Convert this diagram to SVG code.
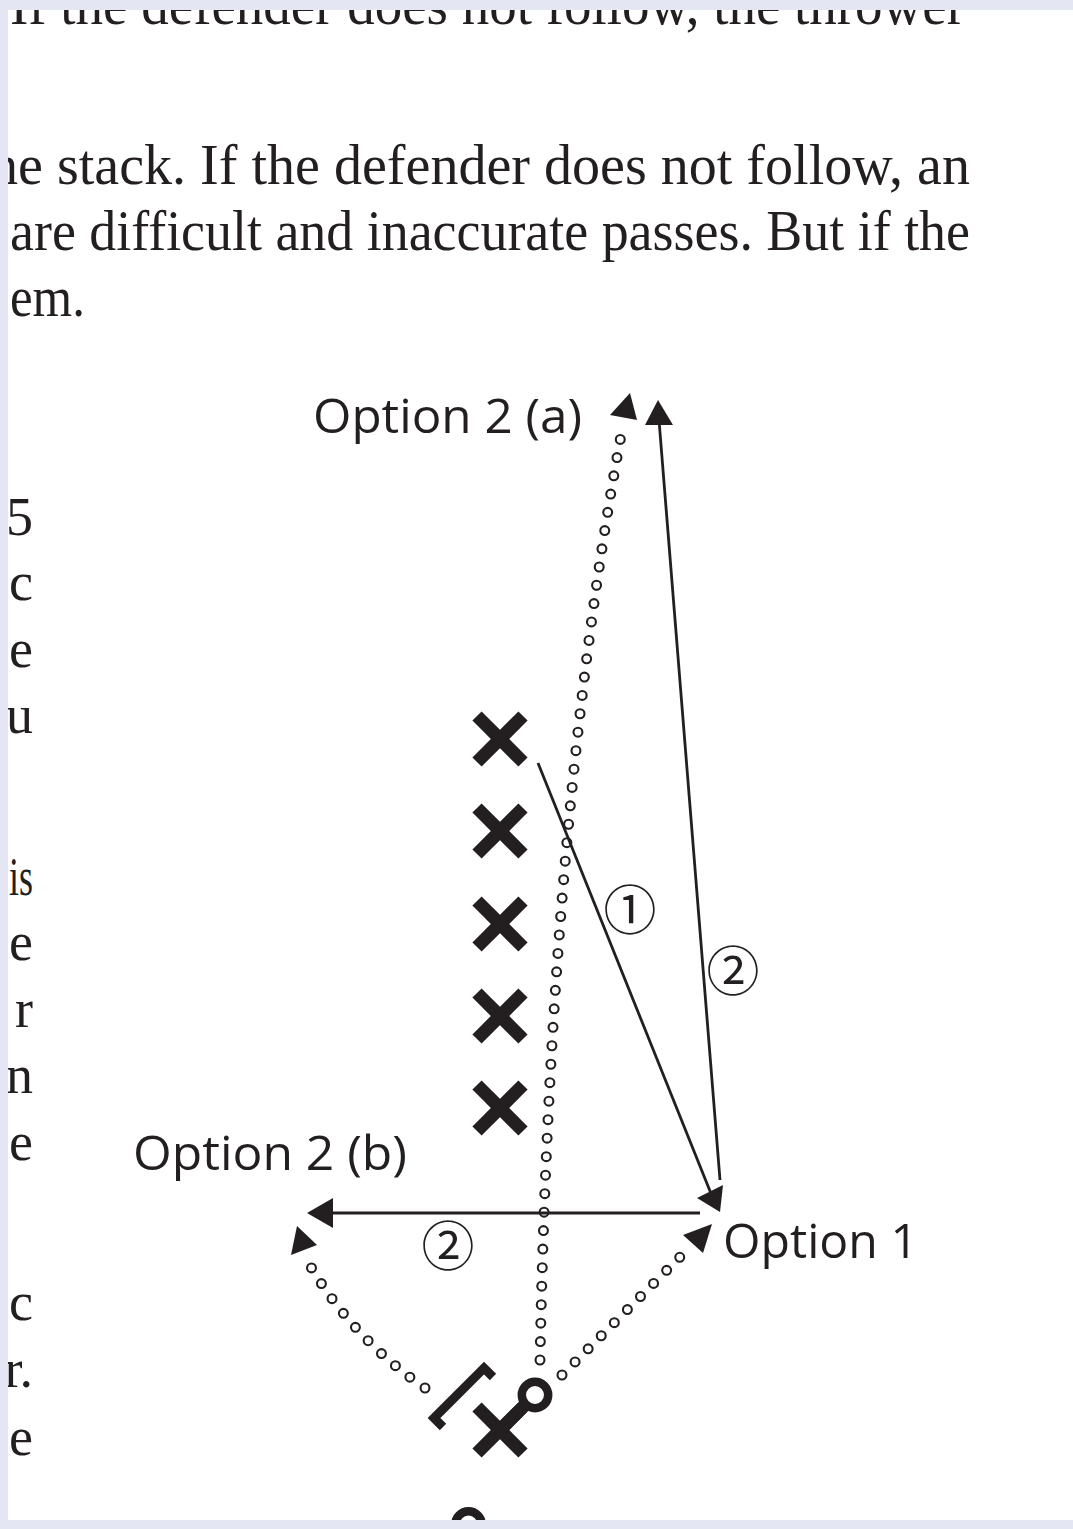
<svg xmlns="http://www.w3.org/2000/svg" xmlns:xlink="http://www.w3.org/1999/xlink" width="1073" height="1529" viewBox="0 0 1073 1529">
<style>
.body{font-family:"Liberation Serif","Times New Roman",serif;font-size:56px;fill:#231f20}
.side{font-family:"Liberation Serif","Times New Roman",serif;font-size:54px;fill:#231f20}
.lbl{font-family:"Open Sans","Liberation Sans",Arial,sans-serif;font-size:48px;fill:#231f20}
.num{font-family:"Noto Sans CJK JP","DejaVu Sans",sans-serif;font-size:53px;fill:#231f20}
.xm line{stroke:#231f20;stroke-width:13;stroke-linecap:butt}
.dotb{fill:none;stroke:#231f20;stroke-width:11;stroke-linecap:round;stroke-dasharray:0 18.5}
.dotw{fill:none;stroke:#ffffff;stroke-width:6.8;stroke-linecap:round;stroke-dasharray:0 18.5}
.ln{fill:none;stroke:#231f20;stroke-width:2.8}
.ah{fill:#231f20;stroke:none}
.band{fill:#e4e6f3}
</style>
<defs>
<g id="xmark" class="xm"><line x1="-23" y1="-23" x2="23" y2="23"/><line x1="-23" y1="23" x2="23" y2="-23"/></g>
</defs>
<rect width="1073" height="1529" fill="#ffffff"/>
<g id="page-text">
<text class="body" x="10" y="24" textLength="955" lengthAdjust="spacingAndGlyphs">If the defender does not follow, the thrower</text>
<text class="body" x="-10" y="184" textLength="980" lengthAdjust="spacingAndGlyphs">he stack. If the defender does not follow, an</text>
<text class="body" x="10" y="250" textLength="960" lengthAdjust="spacingAndGlyphs">are difficult and inaccurate passes. But if the</text>
<text class="body" x="10" y="316" textLength="75" lengthAdjust="spacingAndGlyphs">em.</text>
</g>
<g id="side-text" text-anchor="end">
<text class="side" x="33" y="535">5</text>
<text class="side" x="33" y="600">c</text>
<text class="side" x="33" y="667">e</text>
<text class="side" x="33" y="733">u</text>
<text class="side" x="33" y="895" textLength="24" lengthAdjust="spacingAndGlyphs">is</text>
<text class="side" x="33" y="960">e</text>
<text class="side" x="33" y="1027">r</text>
<text class="side" x="33" y="1093">n</text>
<text class="side" x="33" y="1160">e</text>
<text class="side" x="33" y="1320">c</text>
<text class="side" x="33" y="1387">r.</text>
<text class="side" x="33" y="1455">e</text>
</g>
<g id="connectors">
<path class="dotb" d="M540,1360 C546,1050 568,720 622,430"/>
<path class="dotw" d="M540,1360 C546,1050 568,720 622,430"/>
<polygon class="ah" points="630,393 610,415 637,420"/>
<path class="dotb" d="M425,1388 Q352,1338 308,1262"/>
<path class="dotw" d="M425,1388 Q352,1338 308,1262"/>
<polygon class="ah" points="297,1226 291,1255 317,1245"/>
<path class="dotb" d="M562,1375 L685,1252"/>
<path class="dotw" d="M562,1375 L685,1252"/>
<polygon class="ah" points="712,1224 683,1235 703,1253"/>
<line class="ln" x1="538" y1="763" x2="712" y2="1196"/>
<polygon class="ah" points="720,1212 697,1198 723,1185"/>
<line class="ln" x1="720" y1="1180" x2="659" y2="420"/>
<polygon class="ah" points="658,400 645,425 673,425"/>
<line class="ln" x1="700" y1="1213" x2="325" y2="1213"/>
<polygon class="ah" points="307,1213 333,1198 333,1228"/>
</g>
<g id="stack-1" transform="translate(500,739)"><use xlink:href="#xmark" href="#xmark"/></g>
<g id="stack-2" transform="translate(500,831)"><use xlink:href="#xmark" href="#xmark"/></g>
<g id="stack-3" transform="translate(500,924)"><use xlink:href="#xmark" href="#xmark"/></g>
<g id="stack-4" transform="translate(500,1016)"><use xlink:href="#xmark" href="#xmark"/></g>
<g id="stack-5" transform="translate(500,1108)"><use xlink:href="#xmark" href="#xmark"/></g>
<g id="thrower">
<use xlink:href="#xmark" href="#xmark" transform="translate(500,1430)"/>
<line x1="500" y1="1430" x2="528" y2="1402" stroke="#231f20" stroke-width="13"/>
<circle cx="535" cy="1395" r="13.2" fill="#ffffff" stroke="#231f20" stroke-width="8.5"/>
<path d="M443,1427 L434,1418 L484,1368 L493,1377" fill="none" stroke="#231f20" stroke-width="9" stroke-linejoin="miter"/>
</g>
<g id="lower-player">
<circle cx="468.5" cy="1524.5" r="13.2" fill="#ffffff" stroke="#231f20" stroke-width="8.5"/>
</g>
<g id="labels">
<text class="lbl" x="313" y="433" textLength="269" lengthAdjust="spacingAndGlyphs">Option 2 (a)</text>
<text class="lbl" x="133" y="1170" textLength="274" lengthAdjust="spacingAndGlyphs">Option 2 (b)</text>
<text class="lbl" x="723" y="1258" textLength="195" lengthAdjust="spacingAndGlyphs">Option 1</text>
<text class="num" x="630" y="907" text-anchor="middle" dominant-baseline="central">①</text>
<text class="num" x="733" y="968" text-anchor="middle" dominant-baseline="central">②</text>
<text class="num" x="448" y="1243" text-anchor="middle" dominant-baseline="central">②</text>
</g>
<g id="frame">
<rect class="band" x="0" y="0" width="1073" height="10"/>
<rect class="band" x="0" y="0" width="8" height="1529"/>
<rect class="band" x="0" y="1520" width="1073" height="9"/>
</g>
</svg>
